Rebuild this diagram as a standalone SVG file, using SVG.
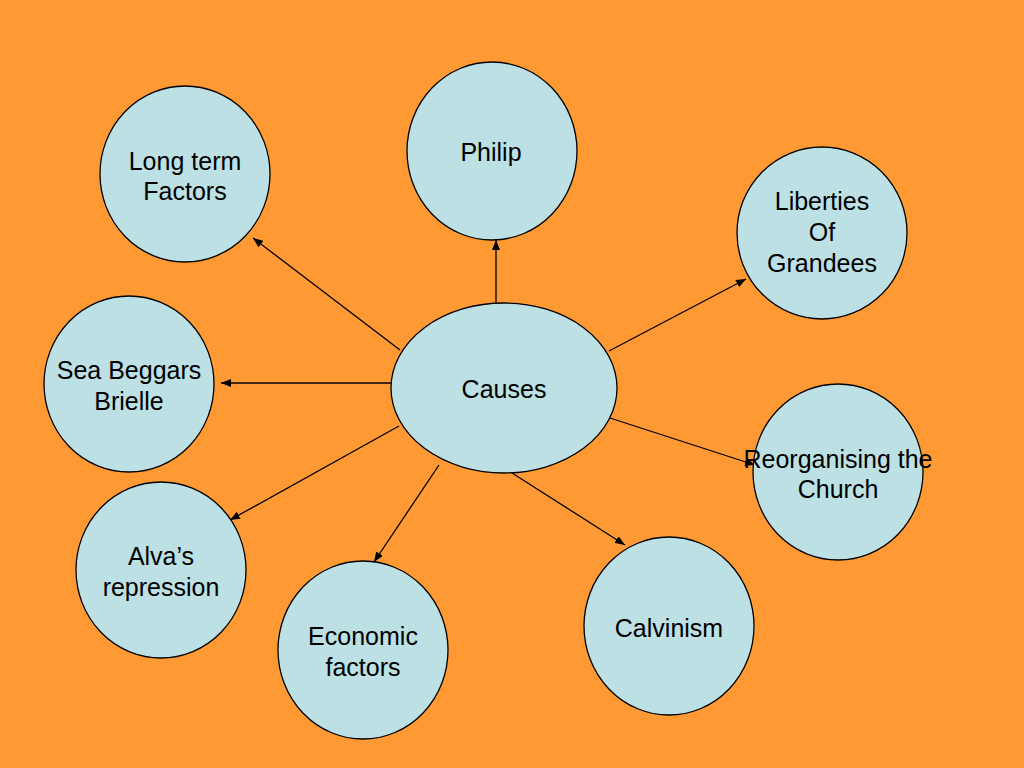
<svg xmlns="http://www.w3.org/2000/svg" width="1024" height="768" viewBox="0 0 1024 768">
<style>
.n{fill:#BCE0E4;stroke:#000;stroke-width:1.3}
.t{font-family:"Liberation Sans",Arial,sans-serif;font-size:25px;fill:#000;text-anchor:middle}
.c{stroke:#000;stroke-width:1.3;fill:none;marker-end:url(#a)}
</style>
<defs>
<marker id="a" viewBox="0 0 10 8" refX="10" refY="4" markerWidth="10" markerHeight="8" markerUnits="userSpaceOnUse" orient="auto">
<path d="M0,0 L10,4 L0,8 Z" fill="#000"/>
</marker>
</defs>
<rect width="1024" height="768" fill="#FF9933"/>
<g id="connectors">
<line class="c" x1="400" y1="350" x2="253" y2="238"/>
<line class="c" x1="496" y1="302" x2="496" y2="240"/>
<line class="c" x1="609" y1="351" x2="746" y2="279"/>
<line class="c" x1="391" y1="383" x2="221" y2="383"/>
<line class="c" x1="610" y1="418" x2="755" y2="465"/>
<line class="c" x1="399" y1="426" x2="230" y2="520"/>
<line class="c" x1="439" y1="465" x2="374" y2="562"/>
<line class="c" x1="512" y1="473" x2="625" y2="545"/>
</g>
<g id="causes"><ellipse class="n" cx="504" cy="388" rx="113" ry="85"/><text class="t" x="504" y="398">Causes</text></g>
<g id="longterm"><ellipse class="n" cx="185" cy="174" rx="85" ry="88"/><text class="t" x="185" y="170">Long term</text><text class="t" x="185" y="200">Factors</text></g>
<g id="philip"><ellipse class="n" cx="492" cy="151" rx="85" ry="89"/><text class="t" x="491" y="161">Philip</text></g>
<g id="liberties"><ellipse class="n" cx="822" cy="233" rx="85" ry="86"/><text class="t" x="822" y="210">Liberties</text><text class="t" x="822" y="241">Of</text><text class="t" x="822" y="272">Grandees</text></g>
<g id="seabeggars"><ellipse class="n" cx="129" cy="384" rx="85" ry="88"/><text class="t" x="129" y="379">Sea Beggars</text><text class="t" x="129" y="410">Brielle</text></g>
<g id="reorganising"><ellipse class="n" cx="838" cy="472" rx="85" ry="88"/><text class="t" x="838" y="468">Reorganising the</text><text class="t" x="838" y="498">Church</text></g>
<g id="alva"><ellipse class="n" cx="161" cy="570" rx="85" ry="88"/><text class="t" x="161" y="565">Alva’s</text><text class="t" x="161" y="596">repression</text></g>
<g id="economic"><ellipse class="n" cx="363" cy="650" rx="85" ry="89"/><text class="t" x="363" y="645">Economic</text><text class="t" x="363" y="676">factors</text></g>
<g id="calvinism"><ellipse class="n" cx="669" cy="626" rx="85" ry="89"/><text class="t" x="669" y="637">Calvinism</text></g>
</svg>
